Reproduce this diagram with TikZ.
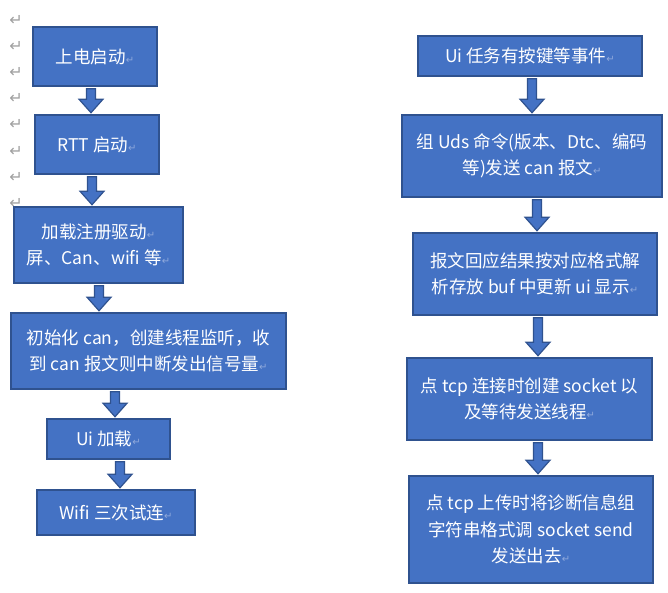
\documentclass[tikz,border=0pt]{standalone}
\usepackage{fontspec}
\newfontfamily\cjk{Noto Sans CJK SC}
\newfontfamily\symfont{DejaVu Sans}
\usetikzlibrary{calc}
\definecolor{boxfill}{HTML}{4472C4}
\definecolor{boxline}{HTML}{2F528F}
\definecolor{markgray}{HTML}{A0A0A0}
\definecolor{markblue}{HTML}{8FA9DC}
\newcommand\rt{{\symfont\fontsize{10}{10}\selectfont\color{markblue}↵}}
\newcommand\barrow[3]{%
  \path[blockarrow] let \p1=(#2.south), \p2=(#3.north) in
    ({#1pt-4.5pt},{\y1-2pt}) -- ({#1pt+4.5pt},{\y1-2pt}) -- ({#1pt+4.5pt},{\y2+15pt})
    -- ({#1pt+12pt},{\y2+15pt}) -- ({#1pt},{\y2+1.5pt}) -- ({#1pt-12pt},{\y2+15pt})
    -- ({#1pt-4.5pt},{\y2+15pt}) -- cycle;}
\tikzset{
  flowbox/.style={draw=boxline, fill=boxfill, line width=1.5pt, text=white,
    font=\cjk\fontsize{17.5}{26.5}\selectfont, align=center, inner sep=0pt},
  blockarrow/.style={draw=boxline, fill=boxfill, line width=1.2pt, line join=miter},
  retmark/.style={text=markgray, font=\symfont\fontsize{16}{16}\selectfont, inner sep=0pt}
}
\begin{document}
\begin{tikzpicture}[x=1pt,y=-1pt]
\useasboundingbox (0,0) rectangle (668,593);
% left margin paragraph marks
\foreach \i in {0,...,7} \node[retmark] (m\i) at (16,{20+26.2*\i}) {↵};
% left column
\node[flowbox, minimum width=124, minimum height=59] (l1) at (95,56.5) {上电启动\rt};
\node[flowbox, minimum width=124, minimum height=59] (l2) at (97,144.5) {RTT 启动\rt};
\node[flowbox, minimum width=169, minimum height=76] (l3) at (98.5,245) {加载注册驱动\rt\\屏、Can、wifi 等\rt};
\node[flowbox, minimum width=275, minimum height=76] (l4) at (148.5,351) {初始化 can，创建线程监听，收\\到 can 报文则中断发出信号量\rt};
\node[flowbox, minimum width=123, minimum height=40] (l5) at (108.5,439) {Ui 加载\rt};
\node[flowbox, minimum width=158, minimum height=45] (l6) at (116,512.5) {Wifi 三次试连\rt};
% right column
\node[flowbox, minimum width=224, minimum height=40] (r1) at (530,56) {Ui 任务有按键等事件\rt};
\node[flowbox, minimum width=260, minimum height=82] (r2) at (532,156) {组 Uds 命令(版本、Dtc、编码\\等)发送 can 报文\rt};
\node[flowbox, minimum width=244, minimum height=82] (r3) at (535,274) {报文回应结果按对应格式解\\析存放 buf 中更新 ui 显示\rt};
\node[flowbox, minimum width=245, minimum height=82] (r4) at (529.5,399) {点 tcp 连接时创建 socket 以\\及等待发送线程\rt};
\node[flowbox, minimum width=244, minimum height=107] (r5) at (531,529.5) {点 tcp 上传时将诊断信息组\\字符串格式调 socket send\\发送出去\rt};
% arrows
\barrow{91}{l1}{l2}
\barrow{92}{l2}{l3}
\barrow{99}{l3}{l4}
\barrow{115}{l4}{l5}
\barrow{120}{l5}{l6}
\barrow{532}{r1}{r2}
\barrow{537}{r2}{r3}
\barrow{538}{r3}{r4}
\barrow{538}{r4}{r5}
\end{tikzpicture}
\end{document}
